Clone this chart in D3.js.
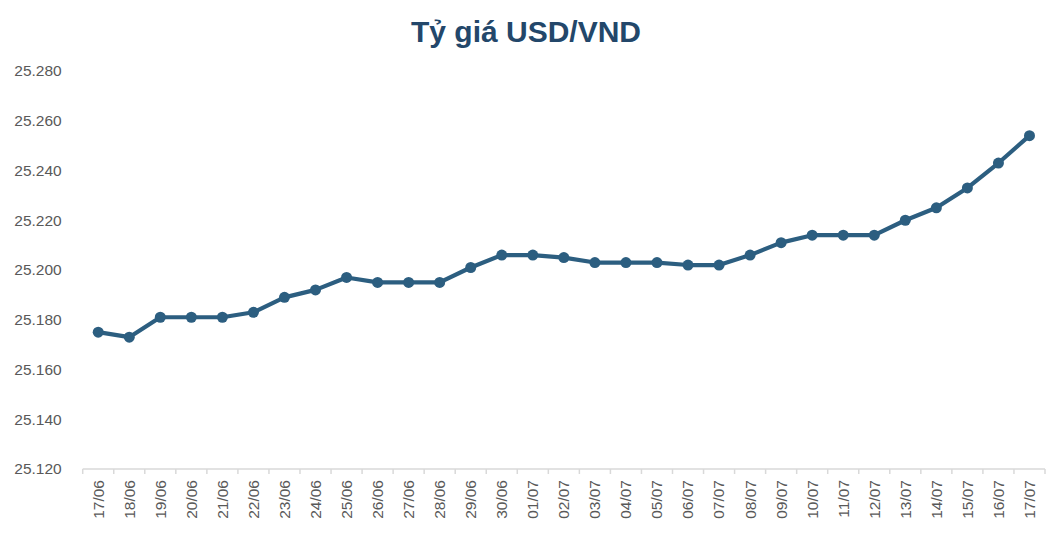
<!DOCTYPE html>
<html>
<head>
<meta charset="utf-8">
<script src="https://cdn.jsdelivr.net/npm/d3@7"></script>
<style>
  html, body { margin: 0; padding: 0; background: #fff; }
  svg { display: block; }
</style>
</head>
<body>
<svg id="chart"></svg>
<script>
// data
const dates = ["17/06","18/06","19/06","20/06","21/06","22/06","23/06","24/06","25/06","26/06",
  "27/06","28/06","29/06","30/06","01/07","02/07","03/07","04/07","05/07","06/07","07/07",
  "08/07","09/07","10/07","11/07","12/07","13/07","14/07","15/07","16/07","17/07"];
const rates = [25175,25173,25181,25181,25181,25183,25189,25192,25197,25195,
  25195,25195,25201,25206,25206,25205,25203,25203,25203,25202,25202,
  25206,25211,25214,25214,25214,25220,25225,25233,25243,25254];
const yTicks = [25120,25140,25160,25180,25200,25220,25240,25260,25280];
const title = "Tỷ giá USD/VND";

const width = 1058;
const height = 544;
const margin = { top: 71, right: 13, bottom: 75, left: 82.7 };

const svg = d3.select("#chart").attr("width", width).attr("height", height);

const vn = d3.formatLocale({ decimal: ",", thousands: ".", grouping: [3], currency: ["", " ₫"] });
const fmt = vn.format(",.0f");

const x = d3.scaleBand()
  .domain(dates)
  .range([margin.left, width - margin.right])
  .paddingInner(0)
  .paddingOuter(0);

const y = d3.scaleLinear()
  .domain([25120, 25280])
  .range([height - margin.bottom, margin.top]);

// title
svg.append("text")
  .attr("x", width / 2 - 3)
  .attr("y", 41.5)
  .attr("text-anchor", "middle")
  .style("font-family", "'Liberation Sans', Arial, sans-serif")
  .style("font-weight", "bold")
  .style("font-size", "30px")
  .style("fill", "#23476a")
  .text(title);

// y axis (labels only)
const yAxis = svg.append("g")
  .attr("transform", `translate(${margin.left - 21}, 0)`)
  .call(d3.axisLeft(y).tickValues(yTicks).tickFormat(fmt).tickSize(0).tickPadding(0));
yAxis.select(".domain").remove();
yAxis.selectAll("text")
  .style("font-family", "'Liberation Sans', Arial, sans-serif")
  .style("font-size", "15.5px")
  .style("fill", "#595959");

// x axis
const xAxisG = svg.append("g")
  .attr("transform", `translate(0, ${y(25120)})`);

xAxisG.append("line")
  .attr("x1", x.range()[0]).attr("x2", x.range()[1])
  .attr("y1", 0).attr("y2", 0)
  .style("stroke", "#d9d9d9")
  .style("stroke-width", 1.5);

const boundaries = dates.map(d => x(d)).concat([x.range()[1]]);
xAxisG.selectAll(".tick-mark")
  .data(boundaries)
  .enter()
  .append("line")
  .attr("class", "tick-mark")
  .attr("x1", d => d).attr("x2", d => d)
  .attr("y1", 0).attr("y2", 5)
  .style("stroke", "#d9d9d9")
  .style("stroke-width", 1.5);

xAxisG.selectAll(".x-label")
  .data(dates)
  .enter()
  .append("text")
  .attr("class", "x-label")
  .attr("transform", d => `translate(${x(d) + x.bandwidth() / 2}, 11) rotate(-90)`)
  .attr("dy", "0.35em")
  .attr("text-anchor", "end")
  .style("font-family", "'Liberation Sans', Arial, sans-serif")
  .style("font-size", "15.5px")
  .style("fill", "#595959")
  .text(d => d);

// line + markers
const line = d3.line()
  .x((d, i) => x(dates[i]) + x.bandwidth() / 2)
  .y(d => y(d));

svg.append("path")
  .datum(rates)
  .attr("d", line)
  .style("fill", "none")
  .style("stroke", "#2c5e80")
  .style("stroke-width", 4.2)
  .style("stroke-linejoin", "round");

svg.selectAll(".dot")
  .data(rates)
  .enter()
  .append("circle")
  .attr("class", "dot")
  .attr("cx", (d, i) => x(dates[i]) + x.bandwidth() / 2)
  .attr("cy", d => y(d))
  .attr("r", 5.5)
  .style("fill", "#2c5e80");
</script>
</body>
</html>
